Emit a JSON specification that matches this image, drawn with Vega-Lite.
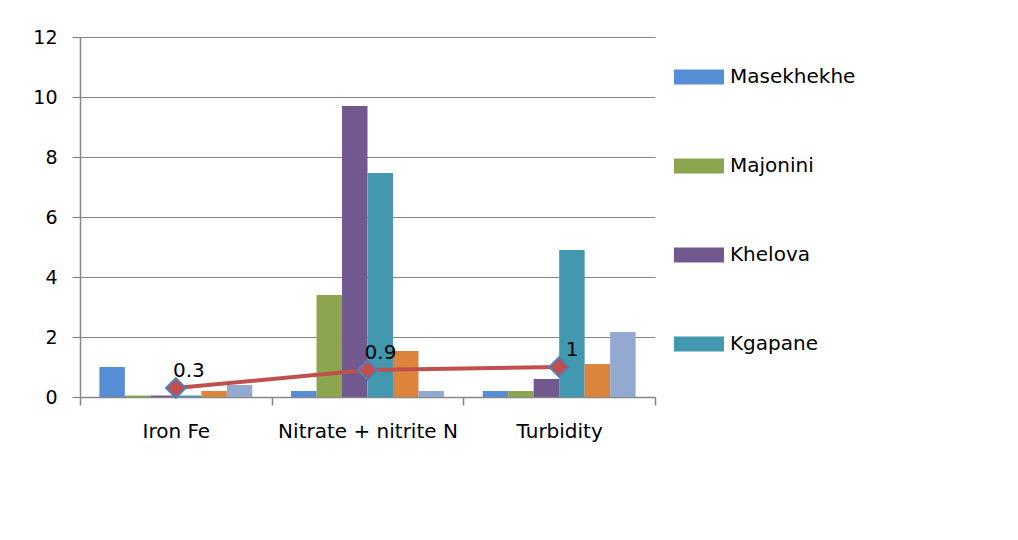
{
  "$schema": "https://vega.github.io/schema/vega-lite/v6.json",
  "width": 575,
  "height": 360,
  "autosize": {"type": "none"},
  "padding": {"left": 80, "top": 37, "right": 363, "bottom": 143},
  "background": "white",
  "config": {
    "view": {"stroke": null},
    "font": "DejaVu Sans",
    "axis": {
      "domainColor": "#868686",
      "tickColor": "#868686",
      "gridColor": "#868686",
      "labelColor": "#000000",
      "labelFont": "DejaVu Sans",
      "title": null
    }
  },
  "datasets": {
    "bars": [
      {"parameter": "Iron Fe", "site": "Masekhekhe", "value": 1.0},
      {"parameter": "Iron Fe", "site": "Majonini", "value": 0.05},
      {"parameter": "Iron Fe", "site": "Khelova", "value": 0.05},
      {"parameter": "Iron Fe", "site": "Kgapane", "value": 0.05},
      {"parameter": "Iron Fe", "site": "Series 5", "value": 0.2},
      {"parameter": "Iron Fe", "site": "Series 6", "value": 0.4},
      {"parameter": "Nitrate + nitrite N", "site": "Masekhekhe", "value": 0.2},
      {"parameter": "Nitrate + nitrite N", "site": "Majonini", "value": 3.4},
      {"parameter": "Nitrate + nitrite N", "site": "Khelova", "value": 9.7},
      {"parameter": "Nitrate + nitrite N", "site": "Kgapane", "value": 7.47},
      {"parameter": "Nitrate + nitrite N", "site": "Series 5", "value": 1.53},
      {"parameter": "Nitrate + nitrite N", "site": "Series 6", "value": 0.2},
      {"parameter": "Turbidity", "site": "Masekhekhe", "value": 0.2},
      {"parameter": "Turbidity", "site": "Majonini", "value": 0.2},
      {"parameter": "Turbidity", "site": "Khelova", "value": 0.6},
      {"parameter": "Turbidity", "site": "Kgapane", "value": 4.9},
      {"parameter": "Turbidity", "site": "Series 5", "value": 1.1},
      {"parameter": "Turbidity", "site": "Series 6", "value": 2.17}
    ],
    "line": [
      {"parameter": "Iron Fe", "value": 0.3, "label": "0.3"},
      {"parameter": "Nitrate + nitrite N", "value": 0.9, "label": "0.9"},
      {"parameter": "Turbidity", "value": 1.0, "label": "1"}
    ]
  },
  "layer": [
    {
      "data": {"name": "bars"},
      "mark": {"type": "bar"},
      "encoding": {
        "x": {
          "field": "parameter",
          "type": "nominal",
          "sort": ["Iron Fe", "Nitrate + nitrite N", "Turbidity"],
          "scale": {"paddingInner": 0, "paddingOuter": 0},
          "axis": {
            "labelAngle": 0,
            "labelFontSize": 20,
            "tickBand": "extent",
            "tickSize": 8,
            "labelPadding": 16,
            "domainWidth": 1.5,
            "tickWidth": 1.5
          }
        },
        "xOffset": {
          "field": "site",
          "type": "nominal",
          "sort": ["Masekhekhe", "Majonini", "Khelova", "Kgapane", "Series 5", "Series 6"],
          "scale": {"paddingInner": 0, "paddingOuter": 0.76}
        },
        "y": {
          "field": "value",
          "type": "quantitative",
          "scale": {"domain": [0, 12], "nice": false},
          "axis": {
            "values": [0, 2, 4, 6, 8, 10, 12],
            "labelFontSize": 19,
            "tickSize": 8,
            "labelPadding": 15,
            "grid": true,
            "gridWidth": 1.2,
            "domainWidth": 1.5,
            "tickWidth": 1.2
          }
        },
        "color": {
          "field": "site",
          "type": "nominal",
          "sort": ["Masekhekhe", "Majonini", "Khelova", "Kgapane", "Series 5", "Series 6"],
          "scale": {
            "domain": ["Masekhekhe", "Majonini", "Khelova", "Kgapane", "Series 5", "Series 6"],
            "range": ["#558ED5", "#8BA64E", "#71588F", "#4298AF", "#DD843C", "#93A9CF"]
          },
          "legend": {
            "values": ["Masekhekhe", "Majonini", "Khelova", "Kgapane"],
            "orient": "none",
            "legendX": 594,
            "legendY": 15,
            "title": null,
            "padding": 0,
            "symbolType": "M-1,-0.3H1V0.3H-1Z",
            "symbolSize": 2500,
            "symbolStrokeWidth": 0,
            "labelFont": "DejaVu Sans",
            "labelFontSize": 20,
            "labelColor": "#000000",
            "labelOffset": 6,
            "rowPadding": 54,
            "labelLimit": 300
          }
        }
      }
    },
    {
      "data": {"name": "line"},
      "mark": {"type": "line", "color": "#C0504D", "strokeWidth": 4},
      "encoding": {
        "x": {"field": "parameter", "type": "nominal", "sort": ["Iron Fe", "Nitrate + nitrite N", "Turbidity"]},
        "y": {"field": "value", "type": "quantitative"}
      }
    },
    {
      "data": {"name": "line"},
      "mark": {"type": "point", "shape": "diamond", "filled": true, "fill": "#C0504D", "stroke": "#4F81BD", "strokeWidth": 2, "size": 380, "opacity": 1},
      "encoding": {
        "x": {"field": "parameter", "type": "nominal", "sort": ["Iron Fe", "Nitrate + nitrite N", "Turbidity"]},
        "y": {"field": "value", "type": "quantitative"}
      }
    },
    {
      "data": {"name": "line"},
      "mark": {"type": "text", "align": "center", "baseline": "alphabetic", "dx": 13, "dy": -11, "fontSize": 20, "font": "DejaVu Sans", "color": "#000000"},
      "encoding": {
        "x": {"field": "parameter", "type": "nominal", "sort": ["Iron Fe", "Nitrate + nitrite N", "Turbidity"]},
        "y": {"field": "value", "type": "quantitative"},
        "text": {"field": "label", "type": "nominal"}
      }
    }
  ]
}
